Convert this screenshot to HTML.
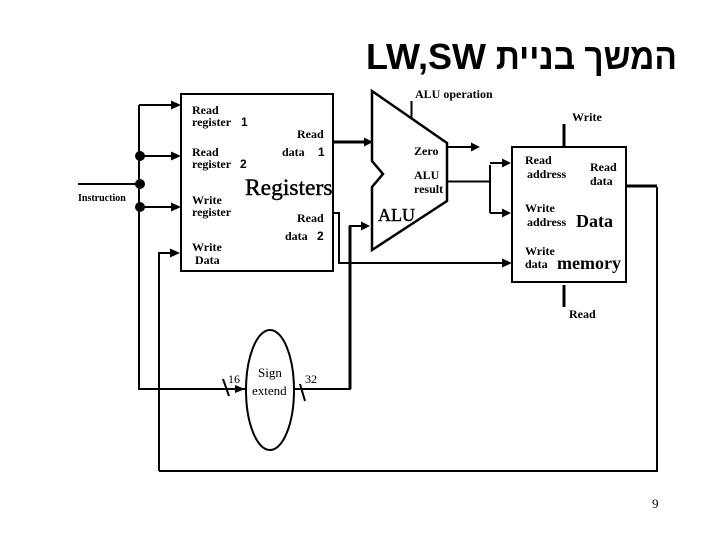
<!DOCTYPE html>
<html lang="he">
<head>
<meta charset="utf-8">
<style>
html,body{margin:0;padding:0;background:#fff;width:720px;height:540px;overflow:hidden}
svg{display:block}
text{font-family:"Liberation Serif",serif;font-weight:bold;font-size:12px;fill:#000}
.s{fill:none;stroke:#000;stroke-width:2}
.t{fill:none;stroke:#000;stroke-width:3}
.h{font-weight:normal;stroke:#000;stroke-width:.45}
</style>
</head>
<body>
<svg width="720" height="540" viewBox="0 0 720 540" xmlns="http://www.w3.org/2000/svg">
<text x="366" y="69" style="font-family:'Liberation Sans',sans-serif;font-size:36px;font-weight:bold">LW,SW</text>
<text transform="translate(677,69) scale(.928,1)" x="0" y="0" text-anchor="start" direction="rtl" style="font-family:'Liberation Sans','DejaVu Sans',sans-serif;font-size:36px;font-weight:bold;direction:rtl;unicode-bidi:embed">המשך בניית</text>

<!-- Registers box -->
<rect x="181" y="94" width="152" height="177" class="s"/>
<!-- Memory box -->
<rect x="512" y="147" width="114" height="135" class="s"/>
<!-- ALU -->
<path d="M372 91L447 143V201L372 250V187L383 174L372 161Z" class="s" style="stroke-width:2.5"/>
<!-- Ellipse -->
<ellipse cx="270" cy="390" rx="24" ry="60" class="s"/>

<!-- Instruction bus -->
<path d="M78 184H139" class="s"/>
<path d="M139 105V389H247" class="s"/>
<path d="M139 105H172M139 156H172M139 207H172" class="s"/>
<circle cx="140" cy="156" r="5"/><circle cx="140" cy="184" r="5"/><circle cx="140" cy="207" r="5"/>
<path d="M171 100.500L181 105L171 109.500ZM171 151.500L181 156L171 160.500ZM171 202.500L181 207L171 211.500Z"/>

<!-- write data feedback -->
<path d="M159 471V253H172" class="s"/>
<path d="M170 248.500L180 253L170 257.500Z"/>
<path d="M159 471H657V187" class="s"/>
<path d="M627 186H657" class="t"/>

<!-- Read data 1 -->
<path d="M333 142H366" class="t"/>
<path d="M364 137.500L373 142L364 146.500Z"/>
<!-- Read data 2 -->
<path d="M333 213H339V263H505" class="s"/>
<path d="M502 258.500L512 263L502 267.500Z"/>
<!-- sign extend out to mux -->
<path d="M294 389H350V226H362" class="s"/>
<path d="M350 389V226" class="t"/>
<path d="M361 221.500L370 226L361 230.500Z"/>

<!-- ALU op -->
<path d="M411.500 101V118" class="s"/>
<!-- Zero -->
<path d="M447 147H474" class="s"/>
<path d="M471 142.500L480 147L471 151.500Z"/>
<!-- result -->
<path d="M447 181.500H490" class="s"/>
<path d="M490 165V213" class="s"/>
<path d="M490 163H505M490 213H505" class="s"/>
<path d="M502 158.500L511 163L502 167.500ZM502 208.500L511 213L502 217.500Z"/>
<!-- mem control -->
<path d="M564 124V147M564 285V307" class="t"/>

<!-- slashes -->
<path d="M223 379L229 396M300 384L305 401" class="s"/>
<path d="M235 385L245 389L235 393Z"/>

<text x="192" y="114">Read</text>
<text x="192" y="126">register</text><text x="241" y="126" style="font-family:'Liberation Sans',sans-serif">1</text>
<text x="297" y="138">Read</text>
<text x="282" y="156">data</text><text x="318" y="156" style="font-family:'Liberation Sans',sans-serif">1</text>
<text x="192" y="156">Read</text>
<text x="192" y="168">register</text><text x="240" y="168" style="font-family:'Liberation Sans',sans-serif">2</text>
<text x="245" y="195" class="h" style="font-size:23.500px">Registers</text>
<text x="192" y="204">Write</text>
<text x="192" y="216">register</text>
<text x="297" y="222">Read</text>
<text x="285" y="240">data</text><text x="317" y="240" style="font-family:'Liberation Sans',sans-serif">2</text>
<text x="192" y="251">Write</text>
<text x="195" y="264">Data</text>
<text x="78" y="201" style="font-size:10px">Instruction</text>

<text x="415" y="98">ALU operation</text>
<text x="572" y="121">Write</text>
<text x="414" y="155">Zero</text>
<text x="414" y="179">ALU</text>
<text x="414" y="193">result</text>
<text x="378" y="221" class="h" style="font-size:18px">ALU</text>
<text x="525" y="164">Read</text>
<text x="527" y="178">address</text>
<text x="590" y="171">Read</text>
<text x="590" y="185">data</text>
<text x="525" y="212">Write</text>
<text x="527" y="226">address</text>
<text x="576" y="227" style="font-size:18px">Data</text>
<text x="525" y="255">Write</text>
<text x="525" y="268">data</text>
<text x="557" y="269" style="font-size:18px">memory</text>
<text x="569" y="318">Read</text>
<text x="228" y="383" style="font-weight:normal">16</text>
<text x="258" y="377" style="font-size:13px;font-weight:normal">Sign</text>
<text x="252" y="395" style="font-size:13px;font-weight:normal">extend</text>
<text x="305" y="383" style="font-weight:normal">32</text>
<text x="652" y="508" style="font-weight:normal;font-size:13px">9</text>
</svg>
</body>
</html>
